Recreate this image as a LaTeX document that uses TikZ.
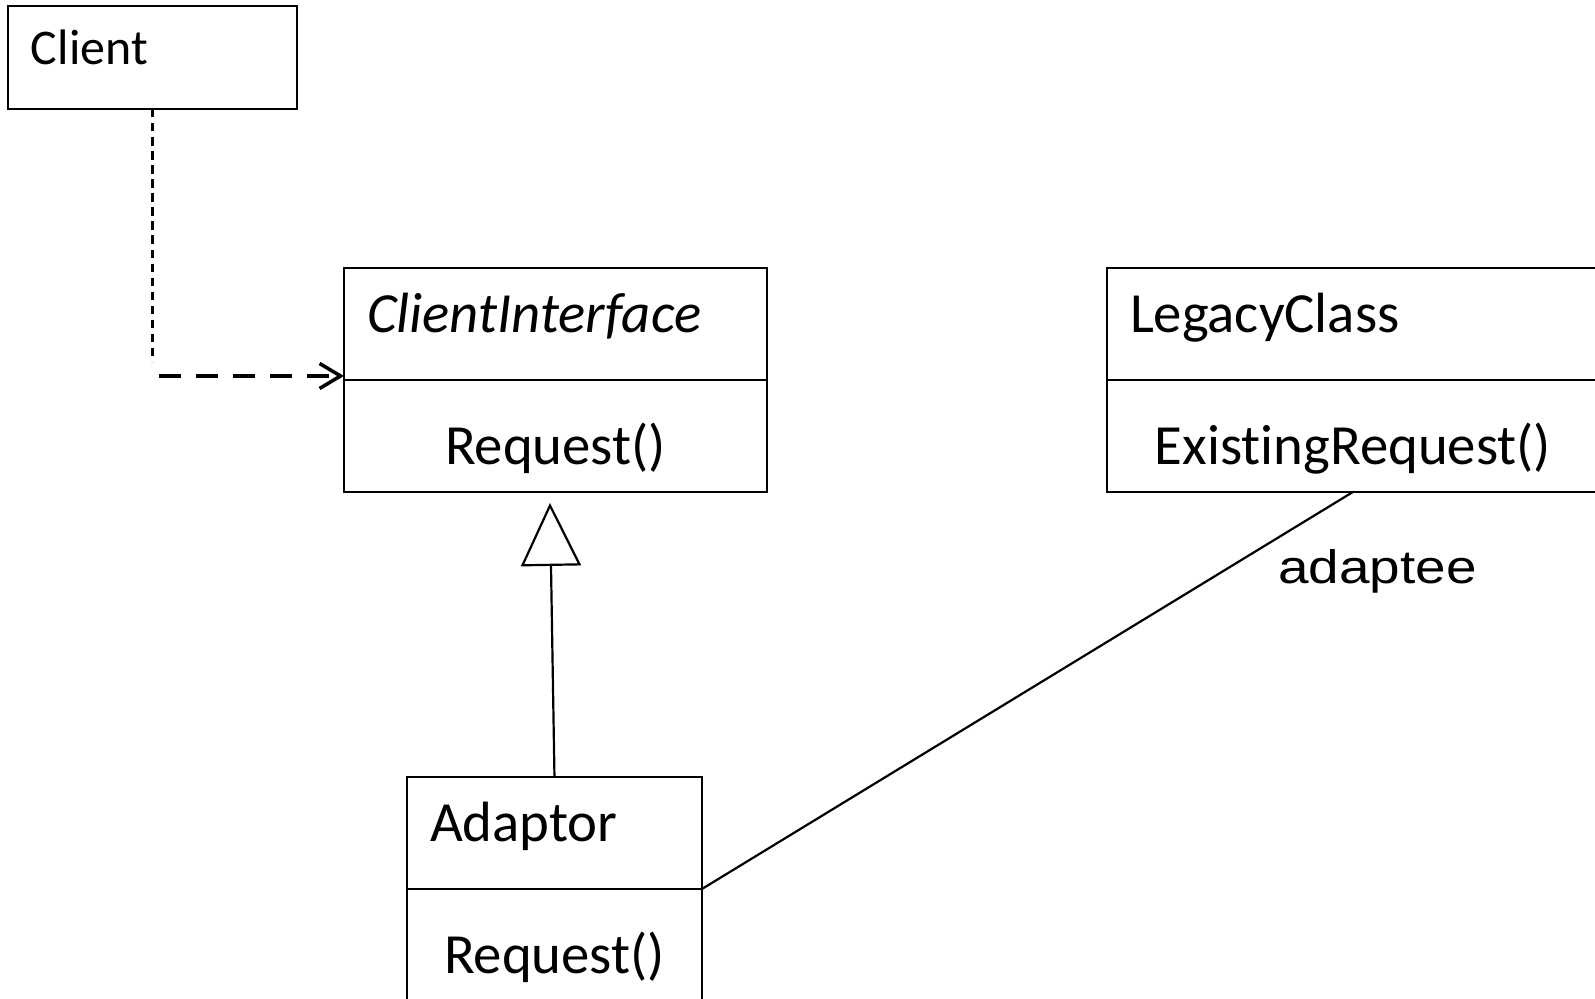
\documentclass[tikz,border=0pt]{standalone}
\usepackage{fontspec}
\setmainfont{Carlito}[Ligatures=NoCommon]
\newfontfamily\rolefont{Liberation Sans}
\usetikzlibrary{arrows.meta,positioning}

\begin{document}
\begin{tikzpicture}[
        x=0.02cm,
        y=-0.02cm,
        box/.style={draw, line width=1.25pt, outer sep=0pt, inner xsep=0.46cm, inner ysep=0pt,
            font=\fontsize{32.3}{38}\selectfont},
        head/.style={box, anchor=north west, align=left, text height=1.3cm, text depth=0.94cm},
        body/.style={box, align=center, text height=1.7cm, text depth=0.54cm},
        uses/.style={line width=1.3pt, dash pattern=on 4.8pt off 3.2pt},
        usesarrow/.style={line width=2.3pt, dash pattern=on 12.5pt off 8.5pt,
            -{Straight Barb[length=0.42cm, width=0.5cm, line width=2pt]}},
        inherits/.style={line width=1.25pt, -{Triangle[open, length=1.26cm, width=1.2cm, line width=1.25pt]}},
        link/.style={line width=1.25pt},
        role/.style={anchor=base west, inner sep=0pt, xscale=1.17,
            font=\rolefont\fontsize{26.7}{32}\selectfont}
    ]
        \useasboundingbox (0,0) rectangle (1595,999);

        \node[head, text width=4.86cm, text height=1.18cm, text depth=0.88cm,
            font=\fontsize{28.4}{34}\selectfont] (client) at (8,6) {Client};

        \node[head, text width=7.54cm] (iface) at (344,268) {\textit{ClientInterface}};
        \node[body, minimum width=8.46cm, below=0pt of iface] (ifacebody) {Request()};

        \node[head, text width=8.92cm] (legacy) at (1107,268) {LegacyClass};
        \node[body, minimum width=9.84cm, below=0pt of legacy] (legacybody) {ExistingRequest()};

        \node[head, text width=4.98cm] (adapt) at (407,777) {Adaptor};
        \node[body, minimum width=5.9cm, below=0pt of adapt] (adaptbody) {Request()};

        \coordinate (bend) at (client.south |- iface.south west);
        \draw[uses, shorten >=0.28cm] (client.south) -- ([yshift=0.08cm]bend);
        \draw[usesarrow, shorten <=0.14cm] ([yshift=0.08cm]bend) -- ([yshift=0.08cm]iface.south west);

        \draw[inherits] (adapt.north) -- ([xshift=-0.11cm, yshift=-0.22cm]ifacebody.south);

        \draw[link] (adapt.south east) -- (legacybody.south);
        \node[role] (adaptee) at (1278,583) {adaptee};
\end{tikzpicture}
\end{document}
